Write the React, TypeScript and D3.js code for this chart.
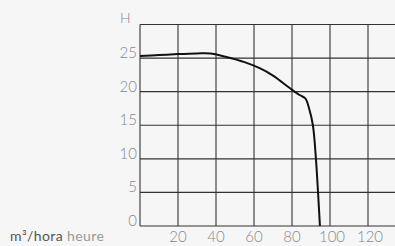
import * as d3 from "d3";

// caudal (m3/h) y altura (m)
const flow = [0, 10, 20, 30, 37, 45, 55, 63, 70, 79, 84, 87, 89, 91, 92.6, 93.7, 94.7];
const head = [25.3, 25.45, 25.6, 25.7, 25.7, 25.2, 24.4, 23.5, 22.4, 20.5, 19.5, 19.0, 17.5, 15, 10, 5, 0];

const xTicks = [20, 40, 60, 80, 100, 120];
const xGrid = [0, 20, 40, 60, 80, 100, 120, 140];
const yTicks = [0, 5, 10, 15, 20, 25];
const yGrid = [0, 5, 10, 15, 20, 25, 30];

const W = 395;
const H = 246;

const App = () => {
  const x = d3.scaleLinear().domain([0, 140]).range([140, 406]);
  const y = d3.scaleLinear().domain([0, 30]).range([226, 24.5]);

  const pts: [number, number][] = flow.map((q, i) => [q, head[i]]);
  const line = d3
    .line<[number, number]>()
    .x((d) => x(d[0]))
    .y((d) => y(d[1]))
    .curve(d3.curveCatmullRom.alpha(0.5));

  const font = "Lato, 'Noto Sans', sans-serif";

  return (
    <svg
      width={W}
      height={H}
      style={{ position: "absolute", left: 0, top: 0, background: "#f6f6f6" }}
    >
      {/* rejilla */}
      {yGrid.map((v) => (
        <line key={"h" + v} x1={x(0)} x2={W} y1={y(v)} y2={y(v)} stroke="#333" strokeWidth={1.1} />
      ))}
      {xGrid.map((v) => (
        <line key={"v" + v} x1={x(v)} x2={x(v)} y1={y(0)} y2={y(30)} stroke="#333" strokeWidth={1.1} />
      ))}

      {/* curva */}
      <path d={line(pts) ?? ""} fill="none" stroke="#111" strokeWidth={2} />

      {/* etiquetas eje y */}
      {yTicks.map((v) => (
        <text key={"yl" + v} x={137} y={y(v)} textAnchor="end" fontFamily={font} fontWeight={300} fontSize={15} fill="#888">
          {v}
        </text>
      ))}
      <text x={120} y={22.5} fontFamily={font} fontWeight={300} fontSize={14} fill="#888">
        H
      </text>

      {/* etiquetas eje x */}
      {xTicks.map((v) => (
        <text key={"xl" + v} x={x(v) + (v >= 100 ? 2 : 0)} y={241.5} textAnchor="middle" fontFamily={font} fontWeight={300} fontSize={15} fill="#888">
          {v}
        </text>
      ))}

      <text x={10} y={241} fontFamily={font} fontSize={14} letterSpacing={0.4}>
        <tspan fill="#555">m³/hora</tspan>
        <tspan fill="#999"> heure</tspan>
      </text>
    </svg>
  );
};

export default App;
